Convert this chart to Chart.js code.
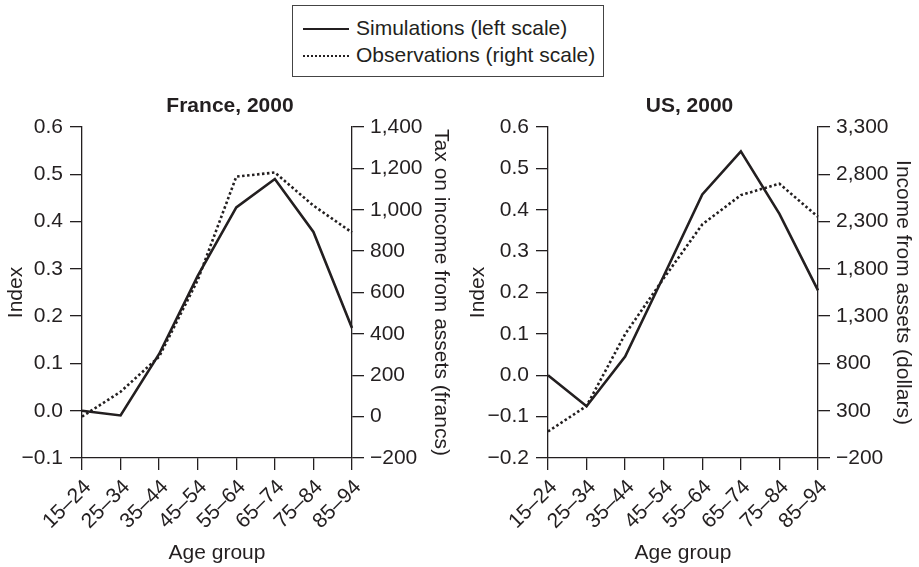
<!DOCTYPE html>
<html>
<head>
<meta charset="utf-8">
<title>Simulations vs observations by age group</title>
<script src="https://cdn.jsdelivr.net/npm/chart.js"></script>
<style>
  body { margin: 0; background: #fff; }
  #wrap { position: relative; width: 919px; height: 567px; overflow: hidden; font-family: "Liberation Sans", Arial, sans-serif; color: #231f20; }
  canvas { position: absolute; }
  #legend { position: absolute; left: 292px; top: 5px; width: 312px; height: 72px; border: 1.5px solid #444; box-sizing: border-box; font-size: 21px; }
  .row { position: absolute; left: 10px; height: 26px; line-height: 26px; white-space: nowrap; }
  .swatch { display: inline-block; width: 46px; vertical-align: middle; margin-right: 7px; }
</style>
</head>
<body>
<div id="wrap">
  <div id="legend">
    <div class="row" style="top:9px"><span class="swatch" style="border-top:2.5px solid #231f20"></span>Simulations (left scale)</div>
    <div class="row" style="top:36px"><span class="swatch" style="border-top:2.5px dotted #231f20"></span>Observations (right scale)</div>
  </div>
  <canvas id="france" width="460" height="477" style="left:0;top:90px"></canvas>
  <canvas id="us" width="459" height="477" style="left:460px;top:90px"></canvas>
</div>
<script>
// data
const ageGroups = ['15–24', '25–34', '35–44', '45–54', '55–64', '65–74', '75–84', '85–94'];
const franceSim = [0.0, -0.01, 0.12, 0.285, 0.43, 0.49, 0.378, 0.175];
const franceObs = [0, 120, 290, 660, 1160, 1180, 1020, 890];
const usSim = [0.0, -0.075, 0.045, 0.24, 0.437, 0.541, 0.39, 0.205];
const usObs = [80, 350, 1110, 1700, 2270, 2580, 2700, 2350];

const ink = '#231f20';
const fnt = { family: '"Liberation Sans", Arial, sans-serif', size: 21 };

const fmtIndex = (v) => {
  v = Math.round(v * 10) / 10;
  return (v < 0 ? '−' : '') + Math.abs(v).toFixed(1);
};
const fmtMoney = (v) => {
  v = Math.round(v);
  return (v < 0 ? '−' : '') + Math.abs(v).toLocaleString('en-US');
};

const axisGrid = { drawOnChartArea: false, color: ink, tickLength: 12, lineWidth: 1.3 };
const axisBorder = { display: true, color: ink, width: 1.3 };

function makeChart(id, opt) {
  return new Chart(document.getElementById(id), {
    type: 'line',
    data: {
      labels: ageGroups,
      datasets: [
        { data: opt.sim, yAxisID: 'y', borderColor: ink, borderWidth: 2.6, pointRadius: 0, tension: 0 },
        { data: opt.obs, yAxisID: 'y1', borderColor: ink, borderWidth: 2.6, borderDash: [2.5, 2.5], pointRadius: 0, tension: 0 }
      ]
    },
    options: {
      responsive: false,
      animation: false,
      devicePixelRatio: 1,
      layout: { padding: 0 },
      plugins: {
        legend: { display: false },
        tooltip: { enabled: false },
        title: {
          display: true,
          text: opt.title,
          color: ink,
          font: { ...fnt, weight: 'bold' },
          padding: { top: 4, bottom: 7.8 }
        }
      },
      scales: {
        x: {
          grid: axisGrid,
          border: axisBorder,
          ticks: { color: ink, font: fnt, minRotation: 45, maxRotation: 45, padding: 5, labelOffset: 6, autoSkip: false },
          title: { display: true, text: 'Age group', color: ink, font: fnt, padding: { top: 0, bottom: 1 } },
          afterFit: (s) => { s.height = 109; }
        },
        y: {
          position: 'left',
          min: opt.leftMin, max: 0.6,
          grid: axisGrid,
          border: axisBorder,
          ticks: { stepSize: 0.1, color: ink, font: fnt, padding: 7, callback: fmtIndex },
          title: { display: true, text: 'Index', color: ink, font: fnt, padding: { top: opt.indexPad, bottom: 0 } },
          afterFit: (s) => { s.width = opt.leftW; }
        },
        y1: {
          position: 'right',
          min: -200, max: opt.rightMax,
          grid: axisGrid,
          border: axisBorder,
          ticks: { stepSize: opt.rightStep, color: ink, font: fnt, padding: 6, callback: fmtMoney },
          title: { display: true, text: opt.rightTitle, color: ink, font: fnt, padding: { top: opt.rightPad, bottom: 0 } },
          afterFit: (s) => { s.width = opt.rightW; }
        }
      }
    }
  });
}

makeChart('france', {
  title: 'France, 2000', sim: franceSim, obs: franceObs,
  leftMin: -0.1, rightMax: 1400, rightStep: 200,
  rightTitle: 'Tax on income from assets (francs)',
  leftW: 82, rightW: 108, indexPad: 4, rightPad: 7
});

makeChart('us', {
  title: 'US, 2000', sim: usSim, obs: usObs,
  leftMin: -0.2, rightMax: 3300, rightStep: 500,
  rightTitle: 'Income from assets (dollars)',
  leftW: 88, rightW: 101, indexPad: 6, rightPad: 4
});
</script>
</body>
</html>
